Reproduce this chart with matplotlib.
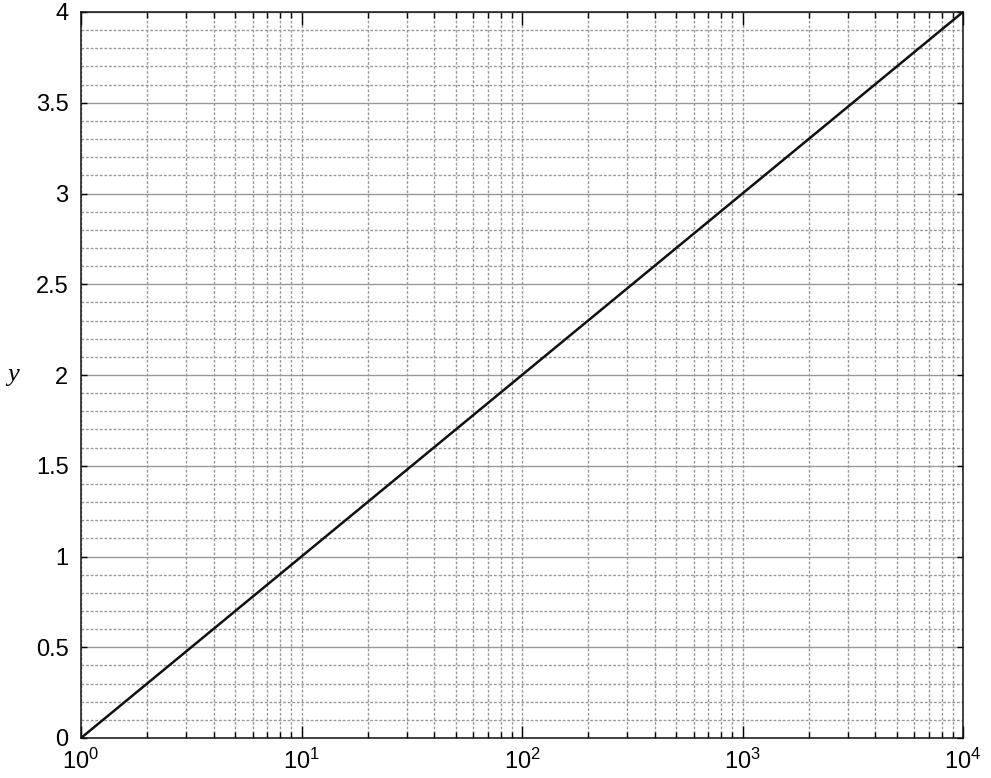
import numpy as np
import matplotlib
matplotlib.use('Agg')
import matplotlib.pyplot as plt
from matplotlib.ticker import LogLocator, MultipleLocator, FixedLocator

plt.rcParams['font.family'] = ['Liberation Sans', 'DejaVu Sans']
plt.rcParams['mathtext.default'] = 'regular'

# data: y = log10(x) at the decades
x_vals = [1, 10, 100, 1000, 10000]
y_vals = [0, 1, 2, 3, 4]
y_major = [0, 0.5, 1, 1.5, 2, 2.5, 3, 3.5, 4]
y_labels = ['0', '0.5', '1', '1.5', '2', '2.5', '3', '3.5', '4']

fig = plt.figure(figsize=(9.91, 7.78), dpi=100)
ax = fig.add_axes([81/991, 40/778, 882/991, 726/778])

ax.plot(x_vals, y_vals, color='#111111', lw=1.8, zorder=3)

ax.set_xscale('log')
ax.set_xlim(1, 1e4)
ax.set_ylim(0, 4)

ax.xaxis.set_major_locator(LogLocator(base=10, numticks=10))
ax.xaxis.set_minor_locator(LogLocator(base=10, subs=np.arange(2, 10), numticks=100))
ax.yaxis.set_major_locator(FixedLocator(y_major))
ax.set_yticklabels(y_labels)
ax.yaxis.set_minor_locator(MultipleLocator(0.1))

# grid: solid at y majors, dotted elsewhere
dots = (0, (2, 1.3))
ax.grid(True, which='major', axis='y', color='#999999', ls='-', lw=1.0)
ax.grid(True, which='minor', axis='y', color='#999999', ls=dots, lw=1.0)
ax.grid(True, which='both', axis='x', color='#999999', ls=dots, lw=1.0)

ax.tick_params(axis='x', which='major', direction='in', length=9, width=1,
               top=True, labelsize=17, pad=8)
ax.tick_params(axis='x', which='minor', direction='in', length=4.5, width=1, top=True)
ax.tick_params(axis='y', which='major', direction='in', length=4.5, width=1,
               right=True, labelsize=17, pad=9)
ax.tick_params(axis='y', which='minor', length=0)

for s in ax.spines.values():
    s.set_linewidth(1.1)
    s.set_color('#111111')

ax.set_ylabel('y', family='Liberation Serif', style='italic', fontsize=19,
              rotation=0, va='center', ha='center')
ax.yaxis.set_label_coords(-0.077, 0.50)

fig.savefig('out.png', dpi=100)
